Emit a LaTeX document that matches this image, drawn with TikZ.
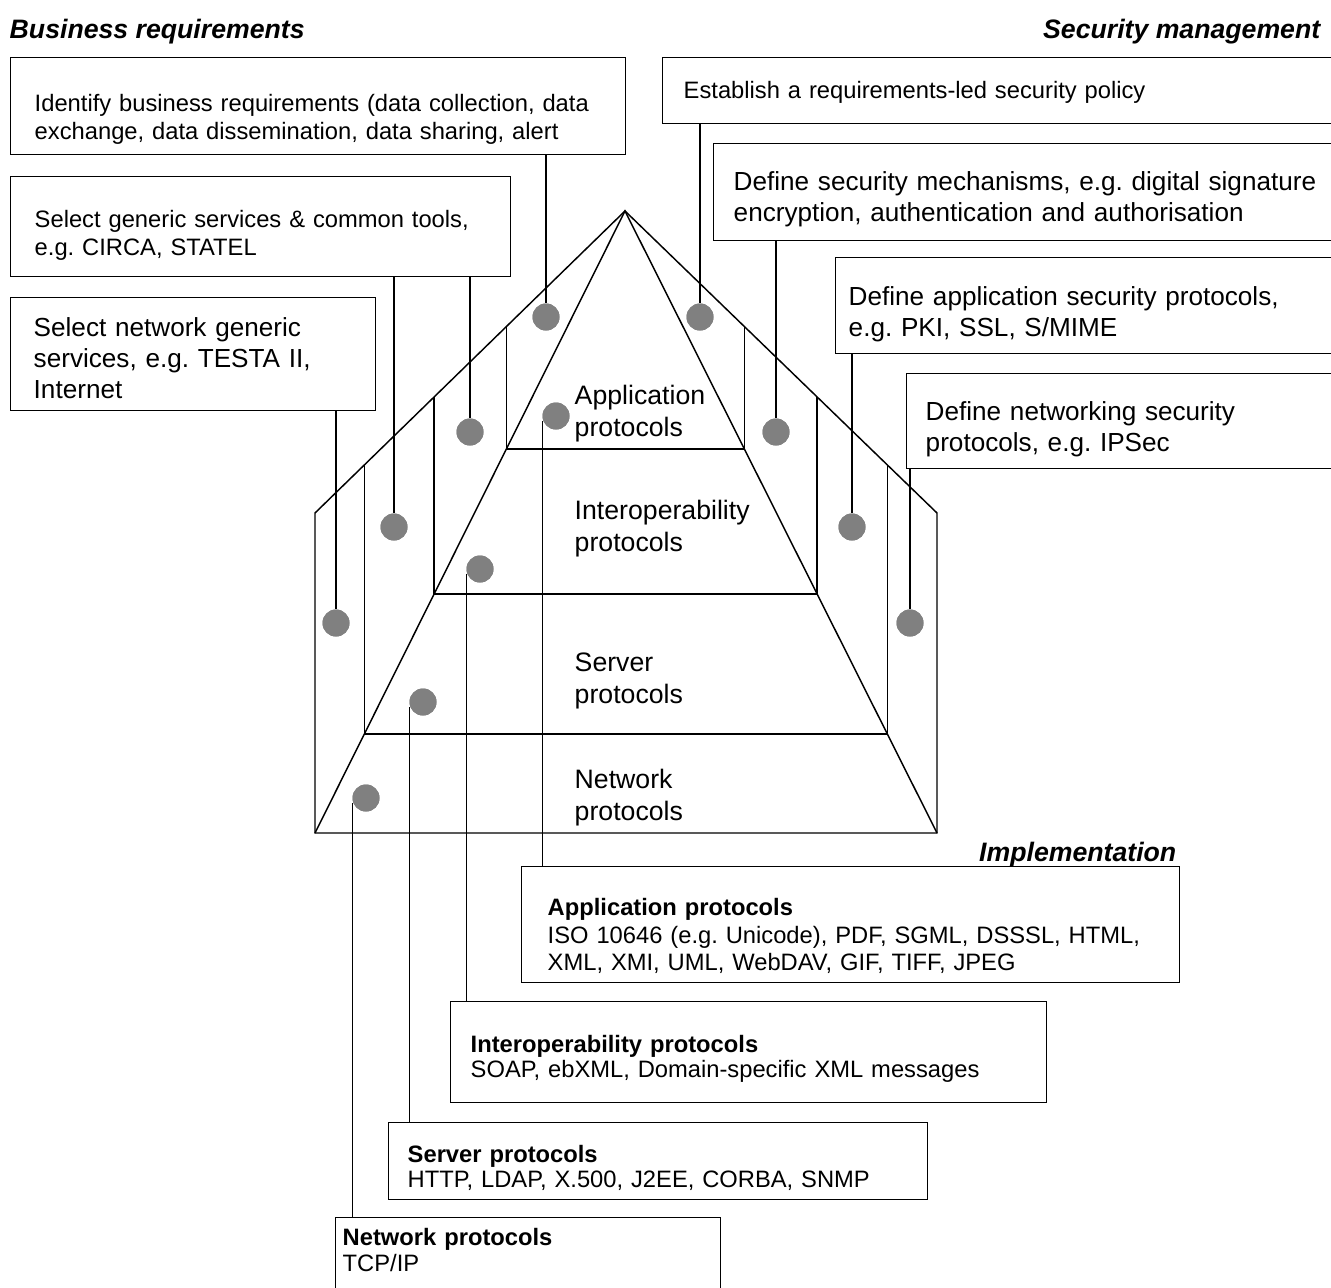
\documentclass[tikz,border=0pt]{standalone}
\usepackage{fontspec}
\setmainfont{Liberation Sans}
\usetikzlibrary{calc}

% one drawing unit = one pixel of the 1331 x 1288 sheet
\newdimen\pxu \pxu=0.75pt
\definecolor{dotgrey}{RGB}{128,128,128}
\frenchspacing

\tikzset{
  panel/.style={draw, rectangle, anchor=north west, inner ysep=0pt, align=left},
  smalltext/.style={font=\fontsize{17.8}{20.6}\selectfont},
  largetext/.style={font=\fontsize{19.6}{23}\selectfont},
  heading/.style={font=\fontsize{20}{24}\selectfont\bfseries\itshape, inner sep=0pt},
  layerlabel/.style={font=\fontsize{20}{23.6}\selectfont, align=left, inner sep=0pt, anchor=base west},
  marker/.style={circle, fill=dotgrey, inner sep=0pt, minimum size=27\pxu},
}

\begin{document}
\begin{tikzpicture}[x=0.75pt, y=-0.75pt, line width=1.1pt]
\useasboundingbox (0,0) rectangle (1331,1288);
\clip (0,0) rectangle (1331,1288);
\fill[white] (0,0) rectangle (1331,1288);

% ---- headings ----
\node[heading, anchor=base west] (titleBiz) at (9,39) {Business requirements};
\node[heading, anchor=base east] (titleSec) at (1321,39) {Security management};
\node[heading, anchor=base east] (titleImpl) at (1177,861) {Implementation};

% ---- business requirement panels (left) ----
\node[panel, smalltext, inner xsep=24\pxu, text width=567\pxu,
      text height=54\pxu, text depth=43\pxu] (reqA) at (10,57)
  {Identify business requirements (data collection, data\\exchange, data dissemination, data sharing, alert};
\node[panel, smalltext, inner xsep=24\pxu, text width=452\pxu,
      text height=51\pxu, text depth=49\pxu] (reqB) at (10,176)
  {Select generic services \& common tools,\\e.g. CIRCA, STATEL};
\node[panel, largetext, inner xsep=23\pxu, text width=319\pxu,
      text height=39\pxu, text depth=74\pxu] (reqC) at (10,297)
  {Select network generic\\services, e.g. TESTA II,\\Internet};

% ---- security management panels (right, running off the sheet) ----
\node[panel, smalltext, inner xsep=21\pxu, text width=716\pxu,
      text height=41\pxu, text depth=25\pxu] (secA) at (662,57)
  {Establish a requirements-led security policy};
\node[panel, largetext, inner xsep=20\pxu, text width=667\pxu,
      text height=47\pxu, text depth=50\pxu] (secB) at (713,143)
  {Define security mechanisms, e.g. digital signature\\encryption, authentication and authorisation};
\node[panel, largetext, inner xsep=13\pxu, text width=559\pxu,
      text height=48\pxu, text depth=48\pxu] (secC) at (835,257)
  {Define application security protocols,\\e.g. PKI, SSL, S/MIME};
\node[panel, largetext, inner xsep=19\pxu, text width=476\pxu,
      text height=47\pxu, text depth=48\pxu] (secD) at (906,373)
  {Define networking security\\protocols, e.g. IPSec};

% ---- implementation panels (bottom) ----
\node[panel, smalltext, inner xsep=26\pxu, text width=606\pxu,
      text height=49\pxu, text depth=67\pxu] (implApp) at (521,866)
  {\textbf{Application protocols}\\ISO 10646 (e.g. Unicode), PDF, SGML, DSSSL, HTML,\\XML, XMI, UML, WebDAV, GIF, TIFF, JPEG};
\node[panel, smalltext, inner xsep=20\pxu, text width=556\pxu,
      text height=51\pxu, text depth=50\pxu] (implInter) at (450,1001)
  {\textbf{Interoperability protocols}\\[-3\pxu]SOAP, ebXML, Domain-specific XML messages};
\node[panel, smalltext, inner xsep=19\pxu, text width=501\pxu,
      text height=40\pxu, text depth=37\pxu] (implServer) at (388,1122)
  {\textbf{Server protocols}\\[-3\pxu]HTTP, LDAP, X.500, J2EE, CORBA, SNMP};
\node[panel, smalltext, inner xsep=7\pxu, text width=371\pxu,
      text height=28\pxu, text depth=55\pxu] (implNet) at (335,1217)
  {\textbf{Network protocols}\\[-2\pxu]TCP/IP};

% ---- the layered pyramid ----
\coordinate (apex)  at (625,211);
\coordinate (eaveL) at (315,513);
\coordinate (eaveR) at (937,513);
\coordinate (baseL) at (315,833);
\coordinate (baseR) at (937,833);

\draw (baseL) -- (eaveL) -- (apex) -- (eaveR) -- (baseR) -- cycle;
\draw (baseL) -- (apex) -- (baseR);
\foreach \t in {0.3826,0.6158,0.8408}
  \draw ($(apex)!\t!(eaveL)$) -- ($(apex)!\t!(baseL)$)
        -- ($(apex)!\t!(baseR)$) -- ($(apex)!\t!(eaveR)$);

% labels are placed by the baseline of their last line
\node[layerlabel] (lblApp)    at (574,436) {Application\\protocols};
\node[layerlabel] (lblInter)  at (574,551) {Interoperability\\protocols};
\node[layerlabel] (lblServer) at (574,703) {Server\\protocols};
\node[layerlabel] (lblNet)    at (574,820) {Network\\protocols};

% ---- markers ----
\node[marker] (mL1) at (546,317) {};
\node[marker] (mL2) at (470,432) {};
\node[marker] (mL3) at (394,527) {};
\node[marker] (mL4) at (336,623) {};
\node[marker] (mR1) at (700,317) {};
\node[marker] (mR2) at (776,432) {};
\node[marker] (mR3) at (852,527) {};
\node[marker] (mR4) at (910,623) {};
\node[marker] (mI1) at (556,416) {};
\node[marker] (mI2) at (480,569) {};
\node[marker] (mI3) at (423,702) {};
\node[marker] (mI4) at (366,798) {};

% ---- connectors ----
\draw (mL1.north) -- (mL1.north |- reqA.south);
\draw (mL2.north) -- (mL2.north |- reqB.south);
\draw (mL3.north) -- (mL3.north |- reqB.south);
\draw (mL4.north) -- (mL4.north |- reqC.south);
\draw (mR1.north) -- (mR1.north |- secA.south);
\draw (mR2.north) -- (mR2.north |- secB.south);
\draw (mR3.north) -- (mR3.north |- secC.south);
\draw (mR4.north) -- (mR4.north |- secD.south);
\draw (mI1.200) -- (mI1.200 |- implApp.north);
\draw (mI2.200) -- (mI2.200 |- implInter.north);
\draw (mI3.200) -- (mI3.200 |- implServer.north);
\draw (mI4.200) -- (mI4.200 |- implNet.north);

% markers drawn again on top of the connector ends
\foreach \m in {mL1,mL2,mL3,mL4,mR1,mR2,mR3,mR4,mI1,mI2,mI3,mI4}
  \fill[dotgrey] (\m) circle[radius=13.5];
\end{tikzpicture}
\end{document}
